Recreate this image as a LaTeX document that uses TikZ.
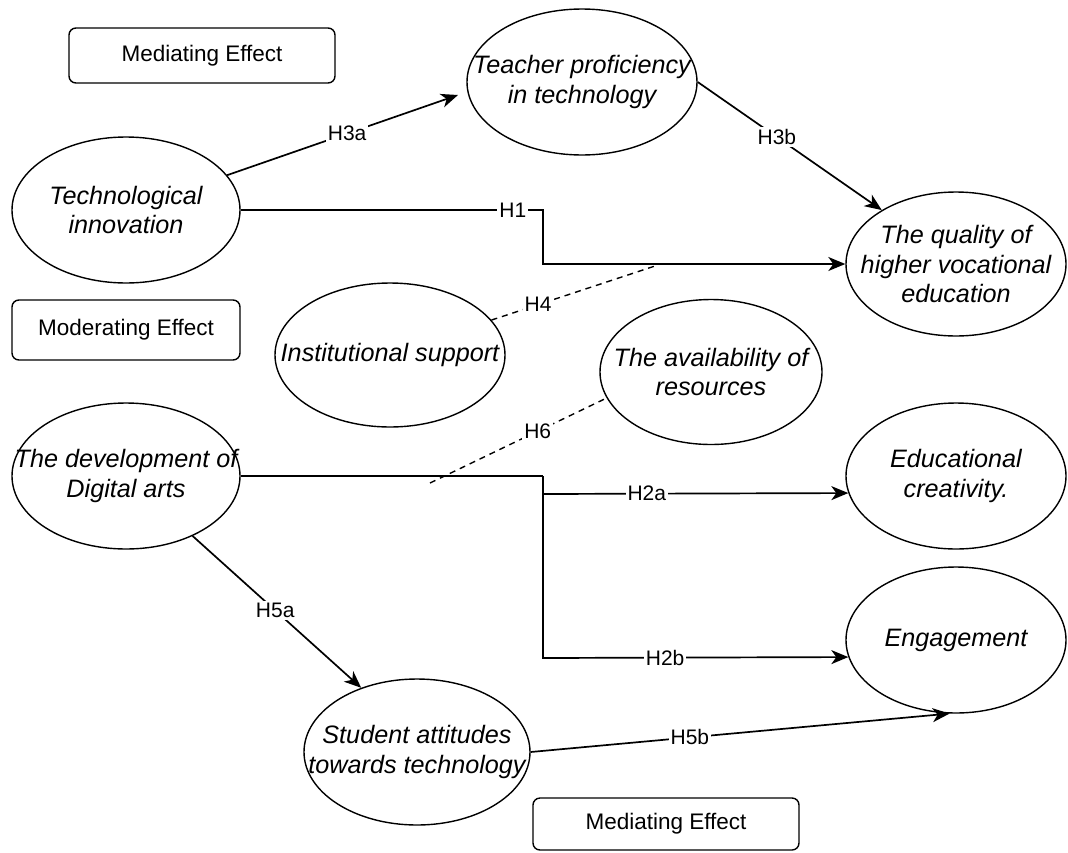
\documentclass[tikz,border=0pt]{standalone}
\usepackage{fontspec}
\setmainfont{Liberation Sans}
\usetikzlibrary{arrows.meta,shapes.geometric}
\begin{document}
\begin{tikzpicture}[x=1pt,y=-1pt,
  ell/.style={draw, ellipse, line width=1.4pt, inner sep=0pt},
  etext/.style={align=center, font=\itshape\fontsize{25.2}{29.5}\selectfont, inner sep=0pt},
  boxst/.style={draw, rounded corners=7pt, line width=1.4pt, inner sep=0pt, font=\fontsize{22.5}{26}\selectfont},
  conn/.style={line width=1.7pt},
  arr/.style={conn, -{Stealth[length=17pt,width=14pt,inset=5pt]}},
  dashline/.style={line width=1.4pt, dash pattern=on 6pt off 5pt},
  lbl/.style={fill=white, inner sep=2pt, font=\fontsize{21}{24}\selectfont}
]
\useasboundingbox (0,0) rectangle (1068,852);

% boxes
\node[boxst, minimum width=266pt, minimum height=55pt] (med1) at (202,55.5) {Mediating Effect};
\node[boxst, minimum width=228pt, minimum height=60pt] (mod) at (126,330) {Moderating Effect};
\node[boxst, minimum width=266pt, minimum height=52pt] (med2) at (666,824) {Mediating Effect};

% ellipses
\node[ell, minimum width=228pt, minimum height=146pt] (tech) at (126,210) {};
\node[etext] (techT) at (tech) {Technological\\innovation};
\node[ell, minimum width=230pt, minimum height=146pt] (teach) at (582,82) {};
\node[etext] (teachT) at (teach) {Teacher proficiency\\in technology};
\node[ell, minimum width=220pt, minimum height=144pt] (qual) at (956,264) {};
\node[etext] (qualT) at (qual) {The quality of\\higher vocational\\education};
\node[ell, minimum width=230pt, minimum height=144pt] (inst) at (390,355) {};
\node[etext] (instT) at (inst) {Institutional support};
\node[ell, minimum width=222pt, minimum height=145pt] (avail) at (711,372) {};
\node[etext] (availT) at (avail) {The availability of\\resources};
\node[ell, minimum width=228pt, minimum height=146pt] (dev) at (126,476) {};
\node[etext] (devT) at (dev) {The development of\\Digital arts};
\node[ell, minimum width=220pt, minimum height=146pt] (educ) at (956,476) {};
\node[etext] (educT) at (educ) {Educational\\creativity.};
\node[ell, minimum width=220pt, minimum height=146pt] (eng) at (956,640) {};
\node[etext] (engT) at (eng) {Engagement};
\node[ell, minimum width=226pt, minimum height=146pt] (stud) at (417,752) {};
\node[etext] (studT) at (stud) {Student attitudes\\towards technology};

% helper coordinates
\coordinate (h3ae) at (458,95);
\coordinate (j1) at (543,210);
\coordinate (h4e) at (658,265);
\coordinate (h6s) at (430,483);
\coordinate (j2) at (543,476);
\coordinate (c2a) at (543,494);
\coordinate (c2b) at (543,658);

% connectors
\draw[arr] (tech.19) -- node[lbl,pos=0.52]{H3a} (h3ae);
\draw[arr] (teach.east) -- node[lbl,pos=0.43]{H3b} (qual.144);
\draw[arr] (tech.east) -- node[lbl,pos=0.9]{H1} (j1) |- (qual.west);
\draw[dashline] (inst.19) -- node[lbl,pos=0.28]{H4} (h4e);
\draw[dashline] (h6s) -- node[lbl,pos=0.61]{H6} (avail.194);
\draw[conn] (dev.east) -- (j2);
\draw[arr] (j2) -- (c2a) -- node[lbl,pos=0.34]{H2a} (educ.189.5);
\draw[arr] (j2) -- (c2b) -- node[lbl,pos=0.4]{H2b} (eng.189.5);
\draw[arr] (dev.-42) -- node[lbl,pos=0.49]{H5a} (stud.131);
\draw[arr] (stud.east) -- node[lbl,pos=0.38]{H5b} (eng.265);
\end{tikzpicture}
\end{document}
